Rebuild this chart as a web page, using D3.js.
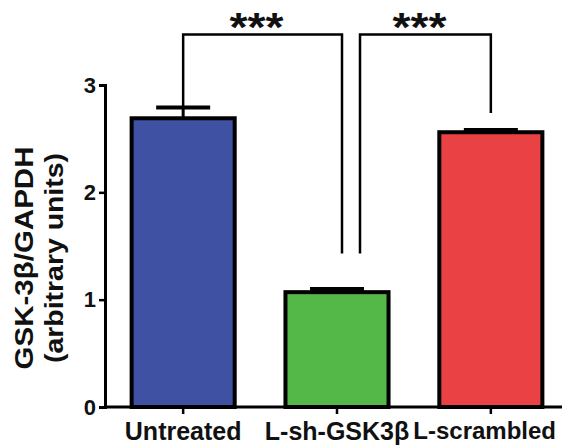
<!DOCTYPE html>
<html>
<head>
<meta charset="utf-8">
<script src="https://cdn.jsdelivr.net/npm/d3@7"></script>
<style>
  body { margin: 0; background: #fff; }
  text { font-family: "Liberation Sans", Arial, sans-serif; font-weight: bold; fill: #111; }
</style>
</head>
<body>
<div id="chart"></div>
<script>
/* DATA */
const categories = ["Untreated", "L-sh-GSK3β", "L-scrambled"];
const means = [2.69, 1.07, 2.56];
const errors = [0.10, 0.03, 0.02];
const barColors = ["#3f51a2", "#54b848", "#e94144"];
const yTicks = [0, 1, 2, 3];
// significance brackets: bar indices, leg end values, top value
const brackets = [
  { from: 0, to: 1, fromVal: 2.79, toVal: 1.43, top: 3.47, label: "***" },
  { from: 1, to: 2, fromVal: 1.43, toVal: 2.74, top: 3.47, label: "***" }
];

/* CONSTANTS */
const width = 562,
  height = 447,
  margin = { top: 85, bottom: 40, left: 105, right: 0 };

const svg = d3.select("#chart")
  .append("svg")
  .attr("width", width)
  .attr("height", height);

// scales
const xScale = d3.scaleBand()
  .domain(categories)
  .range([107, 567])
  .paddingInner(0.33)
  .paddingOuter(0.16);

const yScale = d3.scaleLinear()
  .domain([0, 3])
  .range([height - margin.bottom, margin.top]);

const cx = i => xScale(categories[i]) + xScale.bandwidth() / 2;

// bars
svg.selectAll(".bar")
  .data(means)
  .join("rect")
  .attr("class", "bar")
  .attr("x", (d, i) => xScale(categories[i]))
  .attr("width", xScale.bandwidth())
  .attr("y", d => yScale(d))
  .attr("height", d => yScale(0) - yScale(d))
  .attr("fill", (d, i) => barColors[i])
  .attr("stroke", "#000")
  .attr("stroke-width", 4);

// error bars
const eb = svg.selectAll(".err")
  .data(means)
  .join("g")
  .attr("class", "err");

eb.append("line")
  .attr("x1", (d, i) => cx(i))
  .attr("x2", (d, i) => cx(i))
  .attr("y1", d => yScale(d))
  .attr("y2", (d, i) => yScale(d + errors[i]))
  .attr("stroke", "#000")
  .attr("stroke-width", 3);

eb.append("line")
  .attr("x1", (d, i) => cx(i) - 27)
  .attr("x2", (d, i) => cx(i) + 27)
  .attr("y1", (d, i) => yScale(d + errors[i]))
  .attr("y2", (d, i) => yScale(d + errors[i]))
  .attr("stroke", "#000")
  .attr("stroke-width", 4);

// axes
const yAxis = d3.axisLeft(yScale)
  .tickValues(yTicks)
  .tickFormat(d3.format("d"))
  .tickSizeOuter(0)
  .tickSize(6)
  .tickPadding(3);

const yAxisGroup = svg.append("g")
  .attr("transform", `translate(${margin.left}, 0)`)
  .call(yAxis);

yAxisGroup.select(".domain").attr("stroke-width", 3).attr("stroke", "#000");
yAxisGroup.selectAll(".tick line").attr("stroke-width", 2.5).attr("stroke", "#000");
yAxisGroup.selectAll(".tick text")
  .attr("font-size", 22)
  .attr("font-family", null)
  .attr("fill", "#111");

const xAxis = d3.axisBottom(xScale)
  .tickSizeOuter(0)
  .tickSize(7)
  .tickPadding(8);

const xAxisGroup = svg.append("g")
  .attr("transform", `translate(0, ${yScale(0)})`)
  .call(xAxis);

xAxisGroup.select(".domain")
  .attr("d", `M${margin.left},0H${width}`)
  .attr("stroke-width", 3)
  .attr("stroke", "#000");
xAxisGroup.selectAll(".tick line").attr("stroke-width", 2.5).attr("stroke", "#000");
xAxisGroup.selectAll(".tick text")
  .attr("font-size", 25)
  .attr("font-family", null)
  .attr("fill", "#111");

// last label sits against the right edge: a touch smaller and right-aligned so it stays inside
xAxisGroup.selectAll(".tick text")
  .filter(d => d === categories[2])
  .attr("font-size", 24)
  .attr("text-anchor", "end")
  .attr("x", width - 6 - cx(2));

// y axis title
svg.append("text")
  .attr("transform", `translate(33, 258) rotate(-90)`)
  .attr("text-anchor", "middle")
  .attr("font-size", 25)
  .attr("textLength", 223)
  .attr("lengthAdjust", "spacingAndGlyphs")
  .text("GSK-3β/GAPDH");

svg.append("text")
  .attr("transform", `translate(63, 258) rotate(-90)`)
  .attr("text-anchor", "middle")
  .attr("font-size", 25)
  .attr("textLength", 210)
  .attr("lengthAdjust", "spacingAndGlyphs")
  .text("(arbitrary units)");

// significance brackets
const legOffset = [0, 5, 23];
const br = svg.selectAll(".bracket")
  .data(brackets)
  .join("g")
  .attr("class", "bracket");

br.append("path")
  .attr("fill", "none")
  .attr("stroke", "#000")
  .attr("stroke-width", 2.5)
  .attr("d", (d, k) => {
    const x1 = cx(d.from) + (k === 0 ? 0 : legOffset[2]);
    const x2 = cx(d.to) + (k === 0 ? legOffset[1] : 0);
    return `M${x1},${yScale(d.fromVal)}V${yScale(d.top)}H${x2}V${yScale(d.toVal)}`;
  });

br.append("text")
  .attr("x", (d, k) => {
    const x1 = cx(d.from) + (k === 0 ? 0 : legOffset[2]);
    const x2 = cx(d.to) + (k === 0 ? legOffset[1] : 0);
    return (x1 + x2) / 2 - 6;
  })
  .attr("y", d => yScale(d.top) + 6)
  .attr("text-anchor", "middle")
  .attr("font-size", 40)
  .attr("textLength", 54)
  .attr("lengthAdjust", "spacingAndGlyphs")
  .text(d => d.label);
</script>
</body>
</html>
